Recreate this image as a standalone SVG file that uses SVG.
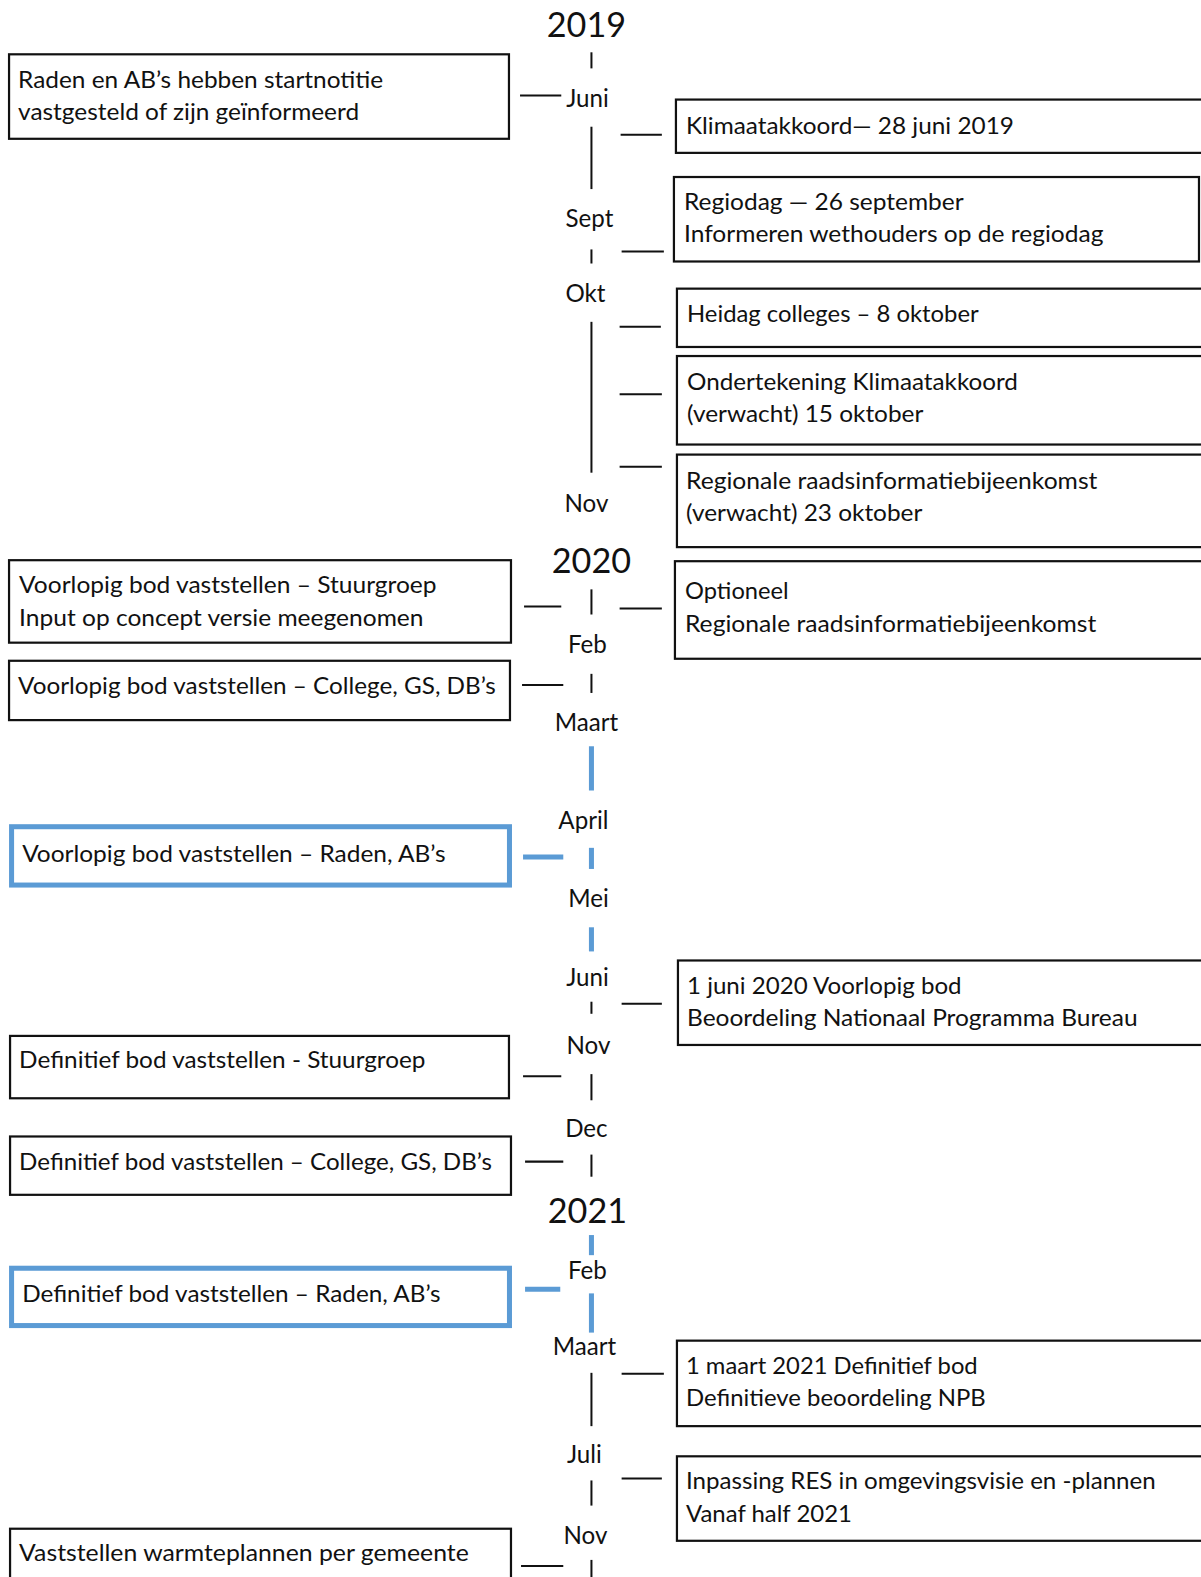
<svg xmlns="http://www.w3.org/2000/svg" width="1201" height="1577" viewBox="0 0 1201 1577">
<style>
.t{font-family:Lato,"Open Sans",sans-serif;font-size:23px;fill:#111}
.m{font-family:Lato,"Open Sans",sans-serif;font-size:24px;fill:#111;text-anchor:middle}
.y{font-family:Lato,"Open Sans",sans-serif;font-size:34px;fill:#111;text-anchor:middle}
.box{fill:#fff;stroke:#111;stroke-width:2.2}
.bbox{fill:#fff;stroke:#5b9bd5;stroke-width:5}
.ln{stroke:#111;stroke-width:2;fill:none}
.bl{stroke:#5b9bd5;stroke-width:5;fill:none}
</style>
<rect width="1201" height="1577" fill="#fff"/>
<g transform="scale(1.00586,1.00574)">
<g id="timeline-labels">
<text class="y" x="583" y="37">2019</text>
<text class="m" x="584" y="106">Juni</text>
<text class="m" x="586" y="226">Sept</text>
<text class="m" x="582" y="300">Okt</text>
<text class="m" x="583" y="509">Nov</text>
<text class="y" x="588" y="570">2020</text>
<text class="m" x="584" y="649">Feb</text>
<text class="m" x="583" y="727">Maart</text>
<text class="m" x="580" y="824">April</text>
<text class="m" x="585" y="902">Mei</text>
<text class="m" x="584" y="980">Juni</text>
<text class="m" x="585" y="1048">Nov</text>
<text class="m" x="583" y="1131">Dec</text>
<text class="y" x="584" y="1216">2021</text>
<text class="m" x="584" y="1272">Feb</text>
<text class="m" x="581" y="1347">Maart</text>
<text class="m" x="581" y="1455">Juli</text>
<text class="m" x="582" y="1535">Nov</text>
</g>
<g id="connectors">
<line class="ln" x1="588" y1="52" x2="588" y2="68"/>
<line class="ln" x1="517" y1="95" x2="558" y2="95"/>
<line class="ln" x1="588" y1="126" x2="588" y2="188"/>
<line class="ln" x1="617" y1="134" x2="658" y2="134"/>
<line class="ln" x1="588" y1="248" x2="588" y2="262"/>
<line class="ln" x1="618" y1="250" x2="660" y2="250"/>
<line class="ln" x1="588" y1="320" x2="588" y2="470"/>
<line class="ln" x1="616" y1="325" x2="657" y2="325"/>
<line class="ln" x1="616" y1="392" x2="658" y2="392"/>
<line class="ln" x1="616" y1="464" x2="658" y2="464"/>
<line class="ln" x1="588" y1="586" x2="588" y2="611"/>
<line class="ln" x1="521" y1="603" x2="558" y2="603"/>
<line class="ln" x1="616" y1="605" x2="658" y2="605"/>
<line class="ln" x1="588" y1="670" x2="588" y2="689"/>
<line class="ln" x1="519" y1="681" x2="560" y2="681"/>
<line class="bl" x1="588" y1="742" x2="588" y2="786"/>
<line class="bl" x1="588" y1="843" x2="588" y2="864"/>
<line class="bl" x1="520" y1="852" x2="560" y2="852"/>
<line class="bl" x1="588" y1="922" x2="588" y2="946"/>
<line class="ln" x1="588" y1="996" x2="588" y2="1008"/>
<line class="ln" x1="618" y1="998" x2="658" y2="998"/>
<line class="ln" x1="588" y1="1068" x2="588" y2="1094"/>
<line class="ln" x1="520" y1="1070" x2="558" y2="1070"/>
<line class="ln" x1="588" y1="1148" x2="588" y2="1170"/>
<line class="ln" x1="522" y1="1155" x2="560" y2="1155"/>
<line class="bl" x1="588" y1="1228" x2="588" y2="1248"/>
<line class="bl" x1="522" y1="1282" x2="557" y2="1282"/>
<line class="bl" x1="588" y1="1286" x2="588" y2="1325"/>
<line class="ln" x1="588" y1="1365" x2="588" y2="1418"/>
<line class="ln" x1="618" y1="1366" x2="660" y2="1366"/>
<line class="ln" x1="588" y1="1472" x2="588" y2="1497"/>
<line class="ln" x1="618" y1="1470" x2="658" y2="1470"/>
<line class="ln" x1="588" y1="1551" x2="588" y2="1580"/>
<line class="ln" x1="518" y1="1557" x2="560" y2="1557"/>
</g>
<g id="n-raden-startnotitie">
<rect class="box" x="9" y="54" width="497" height="84"/>
<text class="t" x="18" y="88" textLength="363" lengthAdjust="spacingAndGlyphs">Raden en AB’s hebben startnotitie</text>
<text class="t" x="18" y="119" textLength="339" lengthAdjust="spacingAndGlyphs">vastgesteld of zijn geïnformeerd</text>
</g>
<g id="n-klimaatakkoord">
<rect class="box" x="672" y="99" width="530" height="53"/>
<text class="t" x="682" y="133" textLength="326" lengthAdjust="spacingAndGlyphs">Klimaatakkoord— 28 juni 2019</text>
</g>
<g id="n-regiodag">
<rect class="box" x="670" y="176" width="522" height="84"/>
<text class="t" x="680" y="209" textLength="278" lengthAdjust="spacingAndGlyphs">Regiodag — 26 september</text>
<text class="t" x="680" y="241" textLength="417" lengthAdjust="spacingAndGlyphs">Informeren wethouders op de regiodag</text>
</g>
<g id="n-heidag">
<rect class="box" x="673" y="287" width="530" height="58"/>
<text class="t" x="683" y="320" textLength="290" lengthAdjust="spacingAndGlyphs">Heidag colleges – 8 oktober</text>
</g>
<g id="n-ondertekening">
<rect class="box" x="673" y="354" width="530" height="88"/>
<text class="t" x="683" y="388" textLength="329" lengthAdjust="spacingAndGlyphs">Ondertekening Klimaatakkoord</text>
<text class="t" x="683" y="420" textLength="235" lengthAdjust="spacingAndGlyphs">(verwacht) 15 oktober</text>
</g>
<g id="n-regionale">
<rect class="box" x="673" y="452" width="530" height="92"/>
<text class="t" x="682" y="486" textLength="409" lengthAdjust="spacingAndGlyphs">Regionale raadsinformatiebijeenkomst</text>
<text class="t" x="682" y="518" textLength="235" lengthAdjust="spacingAndGlyphs">(verwacht) 23 oktober</text>
</g>
<g id="n-voorlopig-stuurgroep">
<rect class="box" x="9" y="557" width="499" height="82"/>
<text class="t" x="19" y="590" textLength="415" lengthAdjust="spacingAndGlyphs">Voorlopig bod vaststellen – Stuurgroep</text>
<text class="t" x="19" y="622" textLength="402" lengthAdjust="spacingAndGlyphs">Input op concept versie meegenomen</text>
</g>
<g id="n-optioneel">
<rect class="box" x="671" y="558" width="530" height="97"/>
<text class="t" x="681" y="596" textLength="103" lengthAdjust="spacingAndGlyphs">Optioneel</text>
<text class="t" x="681" y="628" textLength="409" lengthAdjust="spacingAndGlyphs">Regionale raadsinformatiebijeenkomst</text>
</g>
<g id="n-voorlopig-college">
<rect class="box" x="9" y="657" width="498" height="59"/>
<text class="t" x="18" y="690" textLength="475" lengthAdjust="spacingAndGlyphs">Voorlopig bod vaststellen – College, GS, DB’s</text>
</g>
<g id="n-voorlopig-raden">
<rect class="bbox" x="11.5" y="822" width="495" height="58"/>
<text class="t" x="22" y="857" textLength="421" lengthAdjust="spacingAndGlyphs">Voorlopig bod vaststellen – Raden, AB’s</text>
</g>
<g id="n-1-juni-2020">
<rect class="box" x="674" y="955" width="530" height="84"/>
<text class="t" x="683" y="988" textLength="273" lengthAdjust="spacingAndGlyphs">1 juni 2020 Voorlopig bod</text>
<text class="t" x="683" y="1020" textLength="448" lengthAdjust="spacingAndGlyphs">Beoordeling Nationaal Programma Bureau</text>
</g>
<g id="n-definitief-stuurgroep">
<rect class="box" x="10" y="1030" width="496" height="62"/>
<text class="t" x="19" y="1062" textLength="404" lengthAdjust="spacingAndGlyphs">Definitief bod vaststellen - Stuurgroep</text>
</g>
<g id="n-definitief-college">
<rect class="box" x="10" y="1130" width="498" height="58"/>
<text class="t" x="19" y="1163" textLength="470" lengthAdjust="spacingAndGlyphs">Definitief bod vaststellen – College, GS, DB’s</text>
</g>
<g id="n-definitief-raden">
<rect class="bbox" x="11.5" y="1261" width="495" height="57"/>
<text class="t" x="22" y="1295" textLength="416" lengthAdjust="spacingAndGlyphs">Definitief bod vaststellen – Raden, AB’s</text>
</g>
<g id="n-1-maart-2021">
<rect class="box" x="673" y="1333" width="530" height="85"/>
<text class="t" x="682" y="1366" textLength="290" lengthAdjust="spacingAndGlyphs">1 maart 2021 Definitief bod</text>
<text class="t" x="682" y="1398" textLength="298" lengthAdjust="spacingAndGlyphs">Definitieve beoordeling NPB</text>
</g>
<g id="n-inpassing">
<rect class="box" x="673" y="1448" width="530" height="84"/>
<text class="t" x="682" y="1481" textLength="467" lengthAdjust="spacingAndGlyphs">Inpassing RES in omgevingsvisie en -plannen</text>
<text class="t" x="682" y="1513" textLength="165" lengthAdjust="spacingAndGlyphs">Vanaf half 2021</text>
</g>
<g id="n-warmteplannen">
<rect class="box" x="10" y="1520" width="498" height="80"/>
<text class="t" x="19" y="1552" textLength="447" lengthAdjust="spacingAndGlyphs">Vaststellen warmteplannen per gemeente</text>
</g>
</g>
</svg>
